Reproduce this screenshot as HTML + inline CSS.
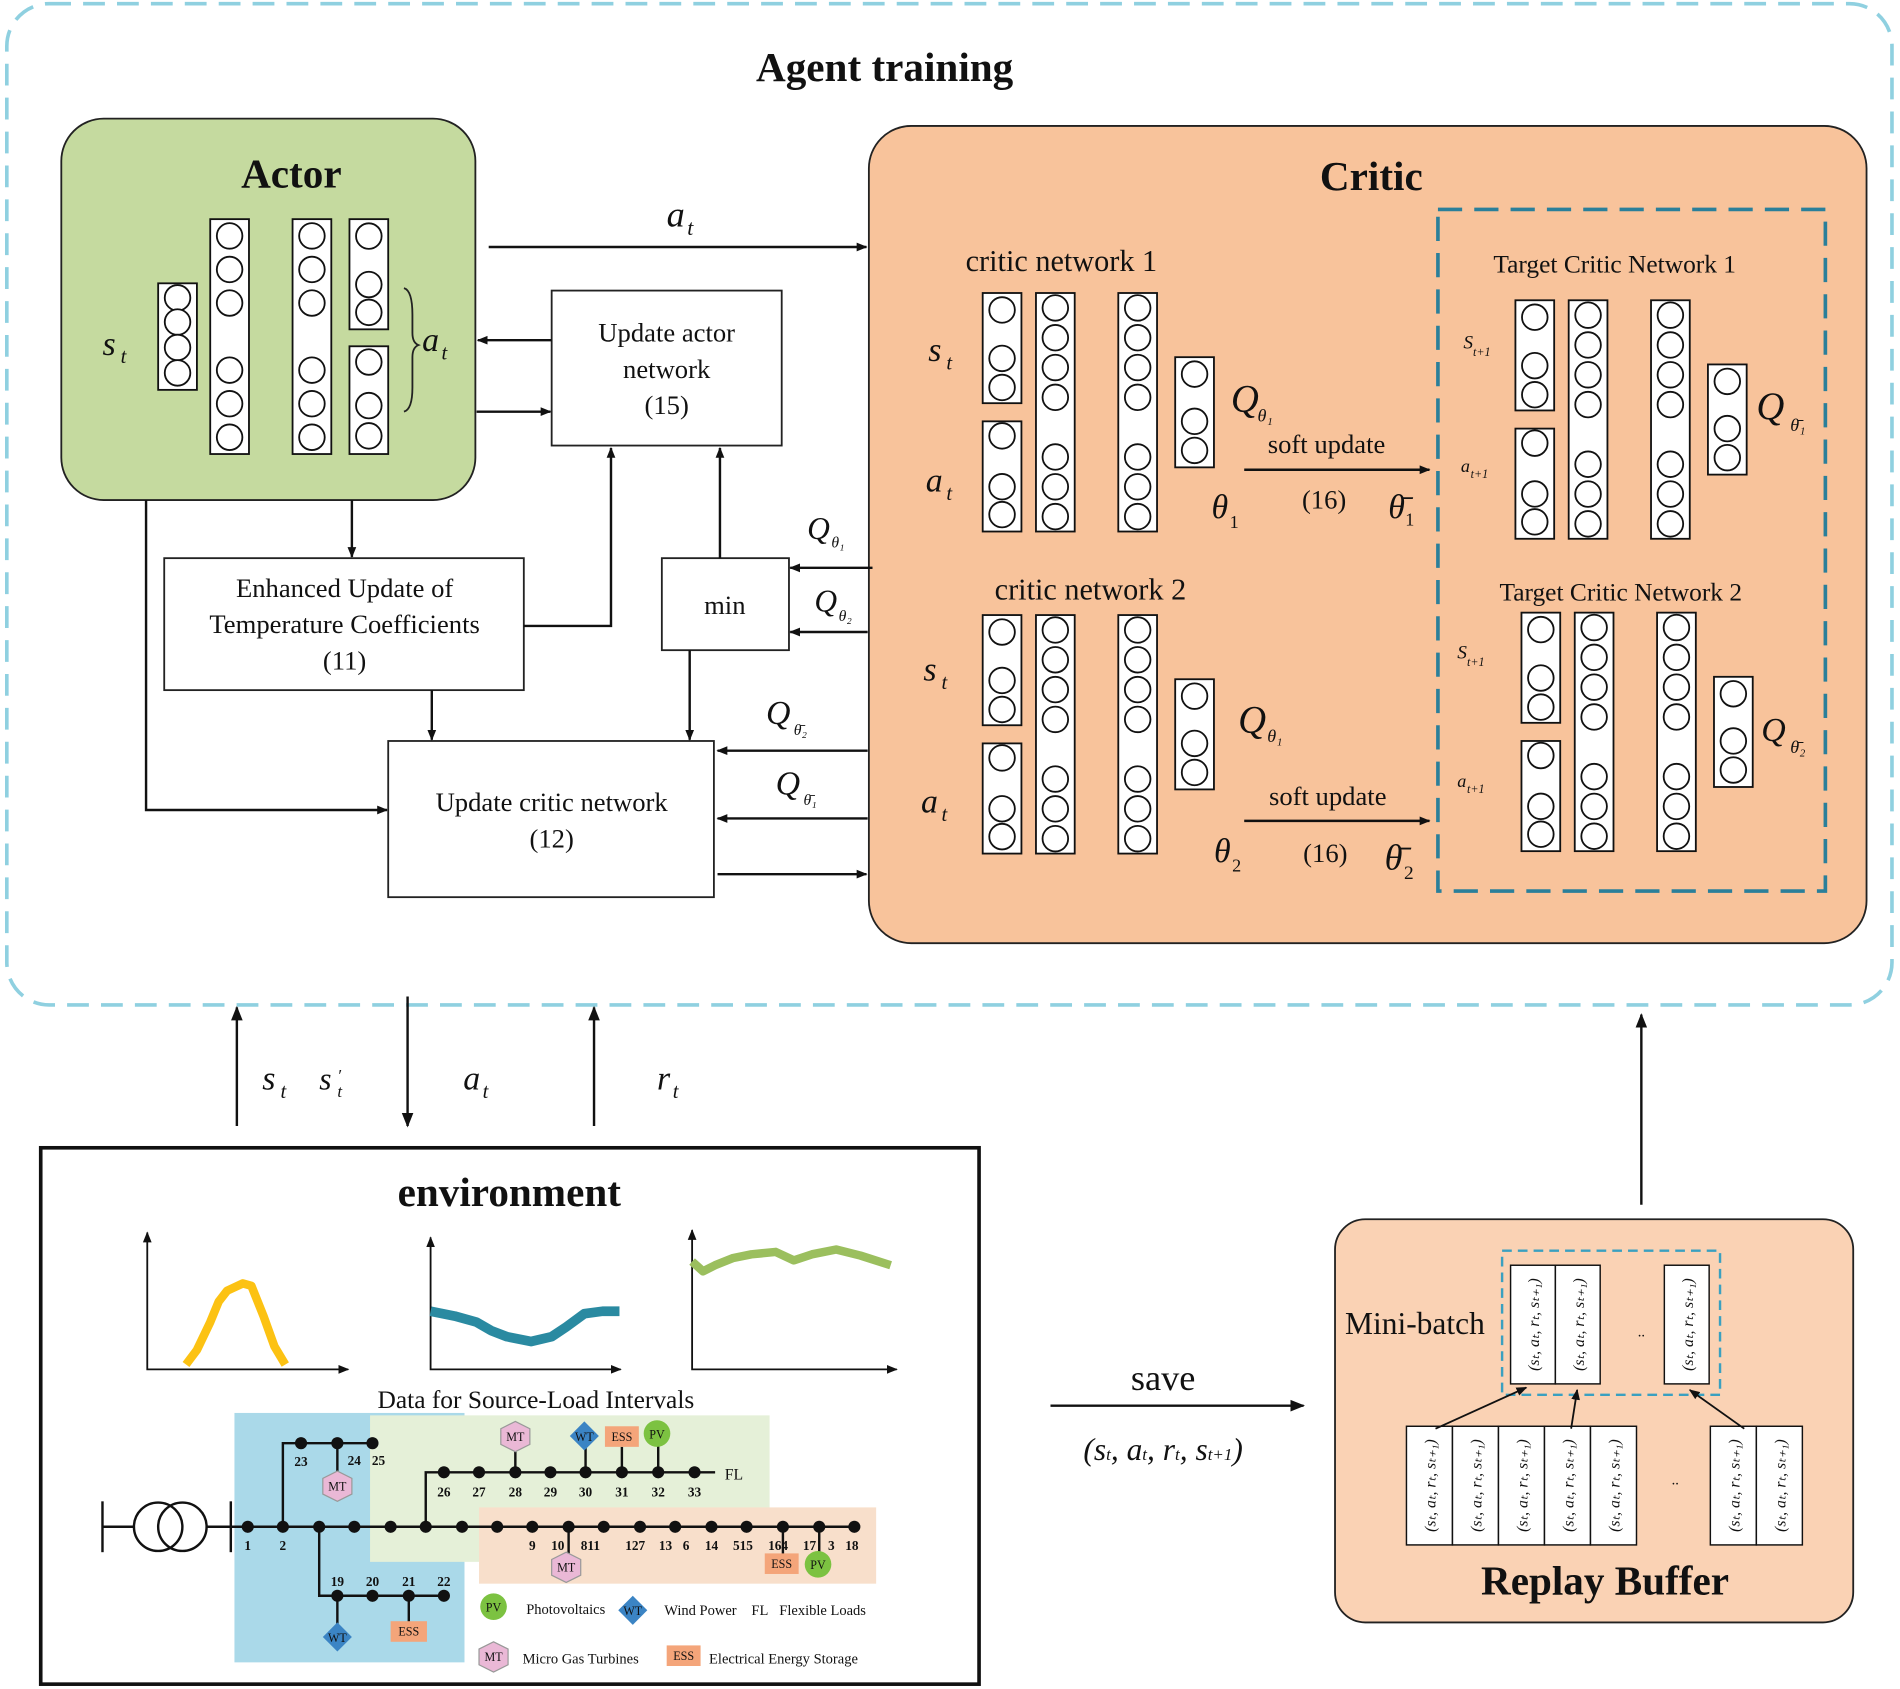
<!DOCTYPE html>
<html><head><meta charset="utf-8"><style>
html,body{margin:0;padding:0;background:#fff}
svg{display:block}
text{font-family:"Liberation Serif",serif;fill:#111}
.i{font-style:italic}
.b{font-weight:bold}
</style></head><body>
<svg id="s" xmlns="http://www.w3.org/2000/svg" width="1900" height="1689" viewBox="0 0 1568 1395">
<defs>
<marker id="a" viewBox="0 0 10 10" refX="9" refY="5" markerWidth="9" markerHeight="9" orient="auto-start-reverse" markerUnits="userSpaceOnUse"><path d="M0,1 L10,5 L0,9 z" fill="#111"/></marker>
<marker id="a2" viewBox="0 0 10 10" refX="9" refY="5" markerWidth="12" markerHeight="12" orient="auto" markerUnits="userSpaceOnUse"><path d="M0,1 L10,5 L0,9 z" fill="#111"/></marker>
</defs>
<rect x="5" y="3" width="1557" height="827" rx="35" fill="none" stroke="#8fd0e0" stroke-width="3" stroke-dasharray="18,10"/>
<text x="730" y="67" font-size="34" class="b" text-anchor="middle">Agent training</text>

<rect x="50" y="98" width="342" height="315" rx="35" fill="#c5da9f" stroke="#222" stroke-width="1.5"/>
<text x="240" y="155" font-size="34" class="b" text-anchor="middle">Actor</text>
<text x="84" y="293" font-size="28" class="i">s</text><text x="99" y="300" font-size="17" class="i">t</text>
<text x="348" y="290" font-size="28" class="i">a</text><text x="364" y="297" font-size="17" class="i">t</text>
<path d="M333,238 Q340,240 340,260 L340,275 Q340,283 345,285 Q340,287 340,295 L340,320 Q340,338 333,340" fill="none" stroke="#222" stroke-width="1.5"/>

<rect x="717" y="104" width="824" height="675" rx="35" fill="#f8c39b" stroke="#222" stroke-width="1.5"/>
<text x="1132" y="157" font-size="34" class="b" text-anchor="middle">Critic</text>
<rect x="1187" y="173" width="320" height="563" fill="none" stroke="#2a7f9a" stroke-width="3" stroke-dasharray="20,10"/>
<text x="876" y="224" font-size="25" text-anchor="middle">critic network 1</text>
<text x="900" y="495" font-size="25" text-anchor="middle">critic network 2</text>
<text x="1333" y="225" font-size="21" text-anchor="middle">Target Critic Network 1</text>
<text x="1338" y="496" font-size="21" text-anchor="middle">Target Critic Network 2</text>
<text x="766" y="298" font-size="28" class="i">s</text><text x="781" y="305" font-size="17" class="i">t</text>
<text x="764" y="406" font-size="28" class="i">a</text><text x="781" y="413" font-size="17" class="i">t</text>
<text x="762" y="562" font-size="28" class="i">s</text><text x="777" y="569" font-size="17" class="i">t</text>
<text x="760" y="671" font-size="28" class="i">a</text><text x="777" y="678" font-size="17" class="i">t</text>
<text x="1016" y="340" font-size="32" class="i">Q</text><text x="1038" y="348" font-size="15" class="i">θ₁</text>
<text x="1022" y="605" font-size="32" class="i">Q</text><text x="1046" y="613" font-size="15" class="i">θ₁</text>
<text x="1450" y="346" font-size="32" class="i">Q</text><text x="1478" y="356" font-size="15" class="i">θ̄₁</text>
<text x="1454" y="612" font-size="28" class="i">Q</text><text x="1478" y="622" font-size="15" class="i">θ̄₂</text>
<text x="1208" y="288" font-size="16" class="i">S</text><text x="1216" y="294" font-size="10" class="i">t+1</text>
<text x="1206" y="390" font-size="15" class="i">a</text><text x="1214" y="395" font-size="10" class="i">t+1</text>
<text x="1203" y="544" font-size="16" class="i">S</text><text x="1211" y="550" font-size="10" class="i">t+1</text>
<text x="1203" y="650" font-size="15" class="i">a</text><text x="1211" y="655" font-size="10" class="i">t+1</text>
<text x="1095" y="374" font-size="22" text-anchor="middle">soft update</text>
<text x="1093" y="420" font-size="22" text-anchor="middle">(16)</text>
<text x="1096" y="665" font-size="22" text-anchor="middle">soft update</text>
<text x="1094" y="712" font-size="22" text-anchor="middle">(16)</text>
<text x="1000" y="428" font-size="28" class="i">θ</text><text x="1015" y="436" font-size="15">1</text>
<text x="1002" y="712" font-size="28" class="i">θ</text><text x="1017" y="720" font-size="15">2</text>
<text x="1146" y="428" font-size="28" class="i">θ̄</text><text x="1160" y="434" font-size="15">1</text>
<text x="1143" y="718" font-size="30" class="i">θ̄</text><text x="1159" y="726" font-size="16">2</text>
<line x1="1027" y1="388" x2="1180" y2="388" stroke="#111" stroke-width="2" marker-end="url(#a)"/>
<line x1="1027" y1="678" x2="1180" y2="678" stroke="#111" stroke-width="2" marker-end="url(#a)"/>

<g fill="#fff" stroke="#222" stroke-width="1.5">
<rect x="455" y="240" width="190" height="128"/>
<rect x="135" y="461" width="297" height="109"/>
<rect x="546" y="461" width="105" height="76"/>
<rect x="320" y="612" width="269" height="129"/>
</g>
<text x="550" y="282" font-size="22" text-anchor="middle">Update actor</text>
<text x="550" y="312" font-size="22" text-anchor="middle">network</text>
<text x="550" y="342" font-size="22" text-anchor="middle">(15)</text>
<text x="284" y="493" font-size="22" text-anchor="middle">Enhanced Update of</text>
<text x="284" y="523" font-size="22" text-anchor="middle">Temperature Coefficients</text>
<text x="284" y="553" font-size="22" text-anchor="middle">(11)</text>
<text x="598" y="507" font-size="22" text-anchor="middle">min</text>
<text x="455" y="670" font-size="22" text-anchor="middle">Update critic network</text>
<text x="455" y="700" font-size="22" text-anchor="middle">(12)</text>

<g stroke="#111" stroke-width="2" fill="none">
<line x1="403" y1="204" x2="715" y2="204" marker-end="url(#a)"/>
<line x1="455" y1="281" x2="394" y2="281" marker-end="url(#a)"/>
<line x1="393" y1="340" x2="454" y2="340" marker-end="url(#a)"/>
<line x1="290" y1="413" x2="290" y2="460" marker-end="url(#a)"/>
<polyline points="432,517 504,517 504,370" marker-end="url(#a)"/>
<line x1="594" y1="461" x2="594" y2="370" marker-end="url(#a)"/>
<line x1="720" y1="469" x2="652" y2="469" marker-end="url(#a)"/>
<line x1="716" y1="522" x2="652" y2="522" marker-end="url(#a)"/>
<line x1="569" y1="537" x2="569" y2="611" marker-end="url(#a)"/>
<line x1="356" y1="570" x2="356" y2="611" marker-end="url(#a)"/>
<polyline points="120,413 120,669 319,669" marker-end="url(#a)"/>
<line x1="716" y1="620" x2="592" y2="620" marker-end="url(#a)"/>
<line x1="716" y1="676" x2="592" y2="676" marker-end="url(#a)"/>
<line x1="592" y1="722" x2="715" y2="722" marker-end="url(#a)"/>
<line x1="195" y1="930" x2="195" y2="832" marker-end="url(#a2)"/>
<line x1="336" y1="823" x2="336" y2="930" marker-end="url(#a2)"/>
<line x1="490" y1="930" x2="490" y2="832" marker-end="url(#a2)"/>
<line x1="1355" y1="995" x2="1355" y2="838" marker-end="url(#a2)"/>
<line x1="867" y1="1161" x2="1076" y2="1161" marker-end="url(#a2)"/>
</g>
<text x="550" y="187" font-size="30" class="i">a</text><text x="567" y="194" font-size="18" class="i">t</text>
<text x="666" y="445" font-size="26" class="i">Q</text><text x="686" y="452" font-size="13" class="i">θ₁</text>
<text x="672" y="505" font-size="26" class="i">Q</text><text x="692" y="513" font-size="13" class="i">θ₂</text>
<text x="632" y="598" font-size="28" class="i">Q</text><text x="655" y="607" font-size="13" class="i">θ̄₂</text>
<text x="640" y="656" font-size="28" class="i">Q</text><text x="663" y="665" font-size="13" class="i">θ̄₁</text>
<text x="216" y="900" font-size="28" class="i">s</text><text x="231" y="907" font-size="17" class="i">t</text>
<text x="263" y="900" font-size="26" class="i">s</text><text x="278" y="893" font-size="14" class="i">′</text><text x="278" y="906" font-size="14" class="i">t</text>
<text x="382" y="900" font-size="28" class="i">a</text><text x="398" y="907" font-size="17" class="i">t</text>
<text x="542" y="900" font-size="28" class="i">r</text><text x="555" y="907" font-size="17" class="i">t</text>

<rect x="33" y="948" width="775" height="443" fill="#fff" stroke="#111" stroke-width="3"/>
<text x="420" y="996" font-size="34" class="b" text-anchor="middle">environment</text>
<g stroke="#111" stroke-width="1.5" fill="none">
<polyline points="121,1018 121,1131 287,1131" marker-end="url(#a)" marker-start="url(#a)"/>
<polyline points="355,1022 355,1131 512,1131" marker-end="url(#a)" marker-start="url(#a)"/>
<polyline points="571,1016 571,1131 740,1131" marker-end="url(#a)" marker-start="url(#a)"/>
</g>
<path d="M153,1127 L162,1115 L173,1092 L180,1075 L187,1066 L200,1060 L207,1062 L217,1087 L226,1112 L235,1127" fill="none" stroke="#fcc213" stroke-width="7" stroke-linejoin="round"/>
<path d="M355,1083 L375,1087 L393,1092 L405,1099 L418,1104 L438,1108 L455,1104 L467,1096 L482,1085 L497,1083 L511,1083" fill="none" stroke="#2a8aa1" stroke-width="8" stroke-linejoin="round"/>
<path d="M571,1042 L580,1050 L590,1045 L605,1039 L620,1036 L640,1034 L655,1041 L670,1036 L690,1032 L710,1037 L735,1045" fill="none" stroke="#9bbf5e" stroke-width="7" stroke-linejoin="round"/>
<text x="442" y="1163" font-size="21" text-anchor="middle">Data for Source-Load Intervals</text>
<rect x="193" y="1167" width="190" height="206" fill="#aad9e9"/>
<rect x="305" y="1169" width="330" height="121" fill="#e5f0d8"/>
<rect x="395" y="1245" width="328" height="63" fill="#f8dfcb"/>
<g stroke="#111" stroke-width="2" fill="none">
<line x1="190" y1="1261" x2="705" y2="1261"/>
<line x1="84" y1="1261" x2="110" y2="1261"/><line x1="84" y1="1240" x2="84" y2="1282"/>
<line x1="170" y1="1261" x2="190" y2="1261"/><line x1="190" y1="1240" x2="190" y2="1282"/>
<circle cx="130" cy="1261" r="20"/><circle cx="150" cy="1261" r="20"/>
<polyline points="233,1261 233,1192 307,1192"/>
<polyline points="263,1261 263,1318 366,1318"/>
<polyline points="351,1261 351,1216 590,1216"/>
<line x1="278" y1="1192" x2="278" y2="1222"/><line x1="425" y1="1216" x2="425" y2="1196"/>
<line x1="483" y1="1216" x2="483" y2="1192"/><line x1="513" y1="1216" x2="513" y2="1195"/><line x1="543" y1="1216" x2="543" y2="1192"/>
<line x1="278" y1="1318" x2="278" y2="1345"/><line x1="337" y1="1318" x2="337" y2="1340"/>
<line x1="469" y1="1261" x2="469" y2="1290"/><line x1="646" y1="1261" x2="646" y2="1288"/><line x1="676" y1="1261" x2="676" y2="1288"/>
</g>
<g id="nodes" fill="#111"></g>
<g font-size="11" font-weight="bold" text-anchor="middle" id="nl">
<text x="204" y="1280">1</text><text x="233" y="1280">2</text><text x="439" y="1280">9</text><text x="460" y="1280">10</text><text x="487" y="1280">811</text><text x="524" y="1280">127</text><text x="549" y="1280">13</text><text x="566" y="1280">6</text><text x="587" y="1280">14</text><text x="613" y="1280">515</text><text x="642" y="1280">164</text><text x="668" y="1280">17</text><text x="686" y="1280">3</text><text x="703" y="1280">18</text>
<text x="248" y="1211">23</text><text x="292" y="1210">24</text><text x="312" y="1210">25</text>
<text x="366" y="1236">26</text><text x="395" y="1236">27</text><text x="425" y="1236">28</text><text x="454" y="1236">29</text><text x="483" y="1236">30</text><text x="513" y="1236">31</text><text x="543" y="1236">32</text><text x="573" y="1236">33</text>
<text x="278" y="1310">19</text><text x="307" y="1310">20</text><text x="337" y="1310">21</text><text x="366" y="1310">22</text>
</g>
<text x="598" y="1222" font-size="13">FL</text>
<g font-size="10" text-anchor="middle" font-family="Liberation Sans,sans-serif">
<polygon points="278,1215 290,1221 290,1234 278,1240 266,1234 266,1221" fill="#eab8d6" stroke="#999"/><text x="278" y="1231">MT</text>
<polygon points="425,1174 437,1180 437,1193 425,1199 413,1193 413,1180" fill="#eab8d6" stroke="#999"/><text x="425" y="1190">MT</text>
<polygon points="467,1282 479,1288 479,1301 467,1307 455,1301 455,1288" fill="#eab8d6" stroke="#999"/><text x="467" y="1298">MT</text>
<polygon points="407,1356 419,1362 419,1375 407,1381 395,1375 395,1362" fill="#eab8d6" stroke="#999"/><text x="407" y="1372">MT</text>
<polygon points="482,1174 494,1186 482,1198 470,1186" fill="#3b84c4"/><text x="482" y="1190" fill="#fff">WT</text>
<polygon points="278,1340 290,1352 278,1364 266,1352" fill="#3b84c4"/><text x="278" y="1356" fill="#fff">WT</text>
<polygon points="522,1318 534,1330 522,1342 510,1330" fill="#3b84c4"/><text x="522" y="1334" fill="#fff">WT</text>
<rect x="499" y="1178" width="28" height="17" fill="#f4a57a"/><text x="513" y="1190">ESS</text>
<rect x="631" y="1283" width="28" height="17" fill="#f4a57a"/><text x="645" y="1295">ESS</text>
<rect x="322" y="1339" width="30" height="17" fill="#f4a57a"/><text x="337" y="1351">ESS</text>
<rect x="550" y="1359" width="28" height="17" fill="#f4a57a"/><text x="564" y="1371">ESS</text>
<circle cx="542" cy="1184" r="11" fill="#7cc241"/><text x="542" y="1188">PV</text>
<circle cx="675" cy="1292" r="11" fill="#7cc241"/><text x="675" y="1296">PV</text>
<circle cx="407" cy="1327" r="11" fill="#7cc241"/><text x="407" y="1331">PV</text>
</g>
<g font-size="12">
<text x="434" y="1333">Photovoltaics</text><text x="548" y="1334">Wind Power</text><text x="620" y="1334" font-family="Liberation Sans,sans-serif">FL</text><text x="643" y="1334">Flexible Loads</text>
<text x="431" y="1374">Micro Gas Turbines</text><text x="585" y="1374">Electrical Energy Storage</text>
</g>

<text x="960" y="1148" font-size="30" text-anchor="middle">save</text>
<text x="960" y="1206" font-size="26" class="i" text-anchor="middle">(s<tspan font-size="14">t</tspan>, a<tspan font-size="14">t</tspan>, r<tspan font-size="14">t</tspan>, s<tspan font-size="14">t+1</tspan>)</text>

<rect x="1102" y="1007" width="428" height="333" rx="25" fill="#fad2b4" stroke="#222" stroke-width="1.5"/>
<text x="1325" y="1317" font-size="34" class="b" text-anchor="middle">Replay Buffer</text>
<text x="1168" y="1102" font-size="26" text-anchor="middle">Mini-batch</text>
<rect x="1240" y="1033" width="180" height="119" fill="none" stroke="#3aa0c0" stroke-width="2" stroke-dasharray="8,5"/>
<g id="tup"></g>
<text x="1352" y="1104" font-size="12">..</text>
<text x="1380" y="1226" font-size="12">..</text>
<g stroke="#111" stroke-width="1.5"><line x1="1185" y1="1180" x2="1260" y2="1146" marker-end="url(#a)"/><line x1="1297" y1="1180" x2="1302" y2="1148" marker-end="url(#a)"/><line x1="1440" y1="1180" x2="1395" y2="1148" marker-end="url(#a)"/></g>
<g id="nn"></g>
</svg>
<script>
var NS="http://www.w3.org/2000/svg";
function el(p,t,a){var e=document.createElementNS(NS,t);for(var k in a)e.setAttribute(k,a[k]);p.appendChild(e);return e;}
var nn=document.getElementById('nn');
function col(x,y,w,h,ys){el(nn,'rect',{x:x,y:y,width:w,height:h,fill:'#fff',stroke:'#111','stroke-width':1.5});var r=w*0.33;ys.forEach(function(c){el(nn,'circle',{cx:x+w/2,cy:c,r:r,fill:'#fff',stroke:'#111','stroke-width':1.5});});}
function ev(y,h,n,gap){var a=[],s=h/(n+ (gap?1:0));var k=0;for(var i=0;i<n+(gap?1:0);i++){if(gap&&i==Math.floor((n+1)/2))continue;a.push(y+s*(i+0.5));}return a;}
// actor
col(130,234,32,88,[246,266,287,308]);
col(173,181,32,194,ev(181,194,6,1));
col(241,181,32,194,ev(181,194,6,1));
col(288,181,32,91,[195,235,258]);
col(288,286,32,89,[299,335,360]);
// critic nets
function net(dx,dy){
col(811+dx,242+dy,32,91,[256,296,320].map(function(v){return v+dy}));
col(811+dx,348+dy,32,91,[360,402,425].map(function(v){return v+dy}));
col(855+dx,242+dy,32,197,ev(242+dy,197,7,1));
col(923+dx,242+dy,32,197,ev(242+dy,197,7,1));
col(970+dx,295+dy,32,91,[309,348,372].map(function(v){return v+dy}));
}
net(0,0);net(0,266);
function tnet(dx,dy){
col(1251+dx,248+dy,32,91,[262,302,326].map(function(v){return v+dy}));
col(1251+dx,354+dy,32,91,[366,408,431].map(function(v){return v+dy}));
col(1295+dx,248+dy,32,197,ev(248+dy,197,7,1));
col(1363+dx,248+dy,32,197,ev(248+dy,197,7,1));
col(1410+dx,301+dy,32,91,[315,354,378].map(function(v){return v+dy}));
}
tnet(0,0);tnet(5,258);
// nodes
var nd=document.getElementById('nodes');
[204,233,263,292,322,351,381,410,439,469,498,528,557,587,616,646,676,705].forEach(function(x){el(nd,'circle',{cx:x,cy:1261,r:5});});
[248,278,307].forEach(function(x){el(nd,'circle',{cx:x,cy:1192,r:5});});
[278,307,337,366].forEach(function(x){el(nd,'circle',{cx:x,cy:1318,r:5});});
[366,395,425,454,483,513,543,573].forEach(function(x){el(nd,'circle',{cx:x,cy:1216,r:5});});
// tuples
var tp=document.getElementById('tup');
function tup(x,y,w,h){el(tp,'rect',{x:x,y:y,width:w,height:h,fill:'#fff',stroke:'#111','stroke-width':1.2});
var t=el(tp,'text',{x:0,y:0,'font-size':13,'font-style':'italic',transform:'translate('+(x+w/2+5)+','+(y+h/2)+') rotate(-90)','text-anchor':'middle'});t.textContent='(s\u209C, a\u209C, r\u209C, s\u209C\u208A\u2081)';}
[1247,1284,1374].forEach(function(x){tup(x,1045,37,98);});
[1161,1199,1237,1275,1313,1412,1450].forEach(function(x){tup(x,1178,38,98);});
</script>
</body></html>
